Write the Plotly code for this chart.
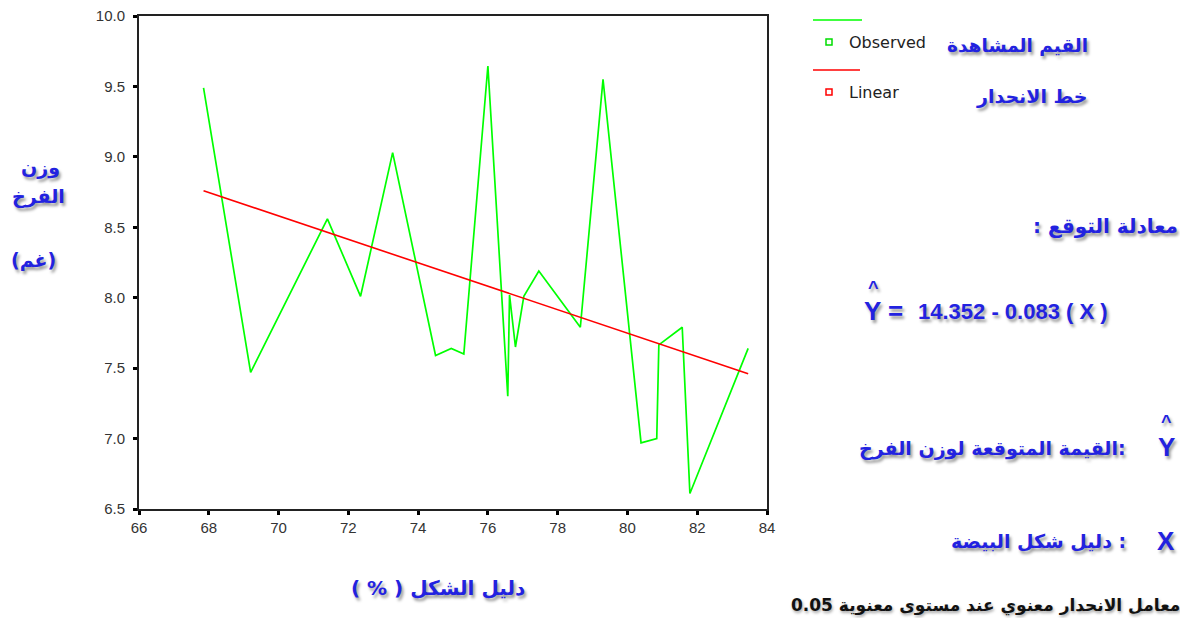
import plotly.graph_objects as go

# ---- data ----
egg_shape_index = [67.85, 69.2, 71.4, 72.35, 73.27, 74.5, 74.95, 75.31, 76.0, 76.57,
                   76.62, 76.79, 77.03, 77.46, 78.65, 79.3, 80.39, 80.84, 80.9, 81.57,
                   81.79, 83.46]
chick_weight = [9.49, 7.47, 8.56, 8.01, 9.03, 7.59, 7.64, 7.60, 9.645, 7.30,
                8.02, 7.65, 8.01, 8.19, 7.79, 9.55, 6.97, 7.00, 7.665, 7.79,
                6.61, 7.64]
fit_x = [67.85, 83.46]
fit_y = [8.76, 7.46]

x_ticks = [66, 68, 70, 72, 74, 76, 78, 80, 82, 84]
y_ticks = [6.5, 7.0, 7.5, 8.0, 8.5, 9.0, 9.5, 10.0]
y_tick_text = ["6.5", "7.0", "7.5", "8.0", "8.5", "9.0", "9.5", "10.0"]

OFF = 8                       # default page body margin
W, H = 1188 - 2 * OFF, 626 - 2 * OFF
L, R, T, B = 139, 767, 16, 509  # plot area in page pixels


def px(x):
    return (x - L) / (R - L)


def py(y):
    return (B - y) / (B - T)


BLUE = "#2222e0"
SHADOW = "2px 3px 3px rgba(0,0,0,0.40)"
AR_FONT = "DejaVu Sans, Noto Sans, sans-serif"
LAT_FONT = "Liberation Sans, Arial, sans-serif"

fig = go.Figure()
fig.add_trace(go.Scatter(x=egg_shape_index, y=chick_weight, mode="lines",
                         line=dict(color="#00ff00", width=1.7), name="Observed",
                         showlegend=False))
fig.add_trace(go.Scatter(x=fit_x, y=fit_y, mode="lines",
                         line=dict(color="#ff0000", width=1.6), name="Linear",
                         showlegend=False))

axis_common = dict(showgrid=False, zeroline=False, showline=True, mirror=True,
                   linecolor="#222", linewidth=2, ticks="outside", ticklen=4,
                   tickwidth=3, tickcolor="#000", automargin=False,
                   ticklabeloverflow="allow",
                   tickfont=dict(family=LAT_FONT, size=15, color="#333"))
fig.update_xaxes(range=[66, 84], tickvals=x_ticks, **axis_common)
fig.update_yaxes(range=[6.5, 10.0], tickvals=y_ticks, ticktext=y_tick_text,
                 ticklabelstandoff=5, **axis_common)

shapes = []
anns = []

# legend (SPSS style)
shapes.append(dict(type="line", xref="paper", yref="paper", x0=px(813), x1=px(862),
                   y0=py(20), y1=py(20), line=dict(color="#00ff00", width=1.6)))
shapes.append(dict(type="line", xref="paper", yref="paper", x0=px(813), x1=px(860),
                   y0=py(70), y1=py(70), line=dict(color="#ff0000", width=1.6)))
shapes.append(dict(type="rect", xref="paper", yref="paper", x0=px(826), x1=px(832),
                   y0=py(39), y1=py(45), line=dict(color="#00dd00", width=1.5)))
shapes.append(dict(type="rect", xref="paper", yref="paper", x0=px(826), x1=px(832),
                   y0=py(89), y1=py(95), line=dict(color="#ff0000", width=1.5)))


def ann(text, x, y, size, color=BLUE, bold=True, family=AR_FONT, xanchor="center",
        shadow=SHADOW):
    t = "<b>" + text + "</b>" if bold else text
    anns.append(dict(text=t, xref="paper", yref="paper", x=px(x), y=py(y),
                     xanchor=xanchor, yanchor="middle", showarrow=False,
                     font=dict(family=family, size=size, color=color, shadow=shadow)))


ann("Observed", 847, 42, 16, color="#222", bold=False, family="DejaVu Sans",
    xanchor="left", shadow="none")
ann("Linear", 847, 92, 16, color="#222", bold=False, family="DejaVu Sans",
    xanchor="left", shadow="none")

ann("القيم المشاهدة", 1090, 45, 18.5, xanchor="right")
ann("خط الانحدار", 1090, 97, 19, xanchor="right")
ann(": معادلة التوقع", 1180, 226, 20, xanchor="right")

# prediction equation
ann("^", 874, 288, 18, family=LAT_FONT)
ann("Y =", 862, 311, 26, family=LAT_FONT, xanchor="left")
ann("14.352 - 0.083 ( X )", 916, 311, 22, family=LAT_FONT, bold=True, xanchor="left")

# symbol definitions
ann("^", 1166, 422, 18, family=LAT_FONT)
ann("Y", 1166, 447, 26, family=LAT_FONT)
ann("القيمة المتوقعة لوزن الفرخ:", 1128, 448, 19, xanchor="right")
ann("X", 1166, 541, 26, family=LAT_FONT)
ann("دليل شكل البيضة :", 1128, 541, 19, xanchor="right")

ann("معامل الانحدار معنوي عند مستوى معنوية 0.05", 1182, 605, 17, color="#111",
    xanchor="right", shadow="1px 2px 3px rgba(0,0,0,0.35)")

# axis titles
ann("وزن", 40, 167, 19)
ann("الفرخ", 38, 196, 19)
ann("(غم)", 33, 260, 19)
ann("( % ) دليل الشكل", 438, 588, 20)

fig.update_layout(width=W, height=H,
                  margin=dict(l=L - OFF, r=W - (R - OFF), t=T - OFF, b=H - (B - OFF)),
                  plot_bgcolor="white", paper_bgcolor="white",
                  shapes=shapes, annotations=anns, showlegend=False)

fig.write_html("out.html")
